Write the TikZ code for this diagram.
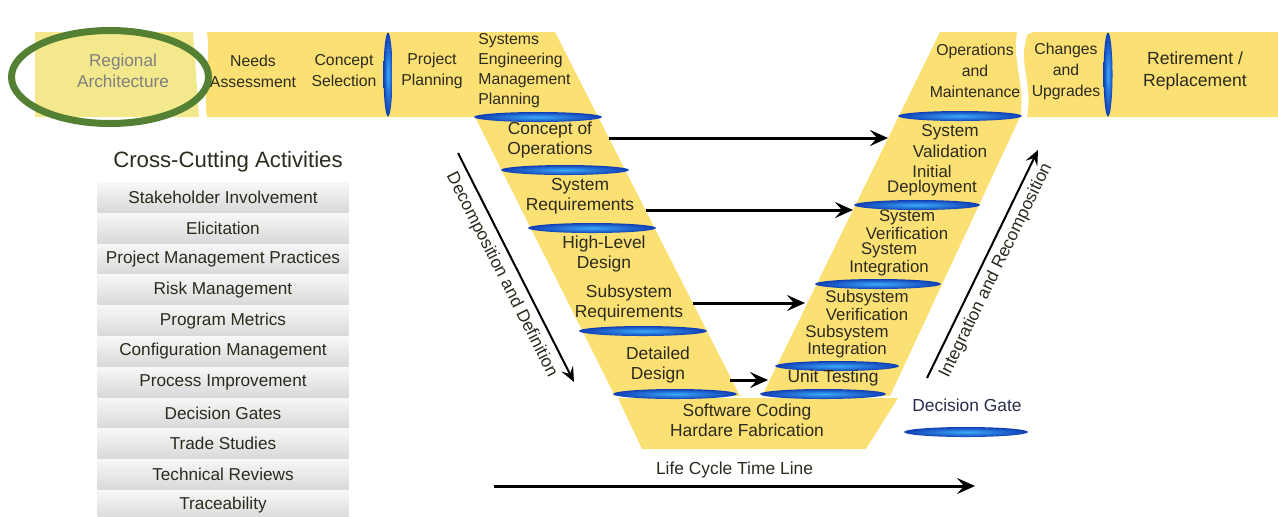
\documentclass[tikz,border=0pt]{standalone}
\usepackage{fontspec}
\setmainfont{Liberation Sans}
\usetikzlibrary{arrows.meta}

\definecolor{vyellow}{RGB}{251,224,115}
\definecolor{paleyellow}{RGB}{243,232,140}
\definecolor{ringgreen}{RGB}{84,128,52}
\definecolor{gatedark}{RGB}{16,62,180}
\definecolor{gatelight}{RGB}{60,170,250}
\definecolor{txt}{RGB}{45,42,30}

\begin{document}
\begin{tikzpicture}[x=0.5pt, y=-0.5pt,
        every node/.style={text=txt, font=\fontsize{8.7}{10}\selectfont, align=center, inner sep=1pt},
        bandtext/.style={font=\fontsize{7.9}{10.5}\selectfont},
        armtext/.style={font=\fontsize{8.4}{7.6}\selectfont},
        gate/.style={inner color=gatelight, outer color=gatedark},
        flow/.style={line width=1.5pt, -{Stealth[length=9pt, width=8pt, inset=3.5pt]}},
        slant flow/.style={line width=1pt, -{Stealth[length=7.5pt, width=6.5pt, inset=3pt]}},
        activity/.style={minimum width=125.5pt, minimum height=14.9pt, inner sep=0pt,
            top color=gray!6, bottom color=gray!30, font=\fontsize{8.6}{10}\selectfont}]
        \useasboundingbox (0,0) rectangle (1278,516);

        % the band and the V
        \fill [paleyellow] (35,32) -- (193,32) -- (199,117) -- (35,117) -- cycle;
        \fill [vyellow] (207,32) -- (555,32) -- (740,396) -- (615,396) -- (475,117) -- (207,117)
              .. controls (203,90) and (211,60) .. cycle;
        \fill [vyellow] (940,32) -- (1017,32) .. controls (1012,65) and (1026,85) .. (1020,117)
              -- (890,396) -- (762,396) -- cycle;
        \fill [vyellow] (1034,32) -- (1278,32) -- (1278,117) -- (1027,117)
              .. controls (1033,85) and (1019,65) .. (1026,40) .. controls (1027,34) .. cycle;
        \fill [vyellow] (618,398) -- (898,398) -- (866,449) -- (642,449) -- cycle;

        % decision gates
        \shade [gate] (538,117) ellipse [x radius=64, y radius=5];
        \shade [gate] (565,170) ellipse [x radius=64, y radius=5];
        \shade [gate] (592,228) ellipse [x radius=64, y radius=5];
        \shade [gate] (643,331) ellipse [x radius=64, y radius=5];
        \shade [gate] (675,394) ellipse [x radius=62, y radius=5];
        \shade [gate] (960,116) ellipse [x radius=62, y radius=5];
        \shade [gate] (917,205) ellipse [x radius=63, y radius=5];
        \shade [gate] (878,284) ellipse [x radius=63, y radius=5];
        \shade [gate] (837,366) ellipse [x radius=62, y radius=5];
        \shade [gate] (823,394) ellipse [x radius=63, y radius=5];
        \shade [gate] (966,432) ellipse [x radius=62, y radius=5];
        \shade [gate] (388,74.5) ellipse [x radius=4.5, y radius=42];
        \shade [gate] (1108,74.5) ellipse [x radius=4.5, y radius=42];

        \draw [ringgreen, line width=3.5pt] (110,77) ellipse [x radius=98.5, y radius=46.5];

        % band labels
        \node (regional) [text=gray, font=\fontsize{8.6}{10.5}\selectfont] at (123,71) {Regional\\Architecture};
        \node (needs) [bandtext] at (253,71) {Needs\\Assessment};
        \node (consel) [bandtext] at (344,71) {Concept\\Selection};
        \node (projplan) [bandtext] at (432,71) {Project\\Planning};
        \node (semp) [bandtext, font=\fontsize{7.9}{10}\selectfont, align=left, anchor=west] at (476,71)
              {Systems\\Engineering\\Management\\Planning};
        \node (opsmaint) [bandtext] at (975,71) {Operations\\and\\Maintenance};
        \node (changes) [bandtext] at (1066,71) {Changes\\and\\Upgrades};
        \node (retire) [font=\fontsize{8.8}{11}\selectfont] at (1195,71) {Retirement /\\Replacement};

        % left arm
        \node (conops) at (550,140) {Concept of\\Operations};
        \node (sysreq) at (580,196) {System\\Requirements};
        \node (hld) at (604,254) {High-Level\\Design};
        \node (subreq) at (629,303) {Subsystem\\Requirements};
        \node (detdes) at (658,365) {Detailed\\Design};
        \node (swcode) at (747,420) {Software Coding\\Hardare Fabrication};

        % right arm
        \node (sysval) [font=\fontsize{8.6}{10.5}\selectfont] at (950,141) {System\\Validation};
        \node (initdep) [armtext] at (932,181) {Initial\\Deployment};
        \node (sysver) [armtext] at (907,224.5) {System\\Verification};
        \node (sysint) [armtext] at (889,259.5) {System\\Integration};
        \node (subver) [armtext] at (867,305.5) {Subsystem\\Verification};
        \node (subint) [armtext] at (847,341.5) {Subsystem\\Integration};
        \node (unittest) at (833,378) {Unit Testing};

        \coordinate (valin) at (888,138);
        \coordinate (verin) at (853,210);
        \coordinate (subverin) at (805,303);
        \coordinate (unitin) at (768,380);
        \draw [flow, shorten <=7pt] (conops.east |- valin) -- (valin);
        \draw [flow, shorten <=4.5pt] (sysreq.east |- verin) -- (verin);
        \draw [flow, shorten <=3.5pt] (subreq.east |- subverin) -- (subverin);
        \draw [flow, shorten <=19pt] (detdes.east |- unitin) -- (unitin);

        \coordinate (dectop) at (458,153);
        \coordinate (decbot) at (574,382);
        \draw [slant flow] (dectop) -- node [sloped, below=2.5pt] {Decomposition and Definition} (decbot);
        \coordinate (intbot) at (927,378);
        \coordinate (inttop) at (1038,150);
        \draw [slant flow] (intbot) -- node [sloped, below=2pt] {Integration and Recomposition} (inttop);

        \node (decgate) [text={rgb,255:red,40;green,45;blue,75}] at (967,405) {Decision Gate};

        \coordinate (tlstart) at (494,486);
        \coordinate (tlend) at (975,486);
        \draw [flow] (tlstart) -- node [above=2pt] (lifecycle) {Life Cycle Time Line} (tlend);

        % cross-cutting activities
        \node (crosscut) [font=\fontsize{11.1}{13}\selectfont] at (228,162) {Cross-Cutting Activities};
        \path (223,197.4) node [activity] (stake)    {Stakeholder Involvement}
              (223,228.2) node [activity] (elicit)   {Elicitation}
              (223,259.0) node [activity] (pmp)      {Project Management Practices}
              (223,289.8) node [activity] (risk)     {Risk Management}
              (223,320.6) node [activity] (metrics)  {Program Metrics}
              (223,351.4) node [activity] (config)   {Configuration Management}
              (223,382.2) node [activity] (procimp)  {Process Improvement}
              (223,413.0) node [activity] (gates)    {Decision Gates}
              (223,443.8) node [activity] (trade)    {Trade Studies}
              (223,474.6) node [activity] (reviews)  {Technical Reviews}
              (223,505.4) node [activity] (trace)    {Traceability};
    \end{tikzpicture}
\end{document}
